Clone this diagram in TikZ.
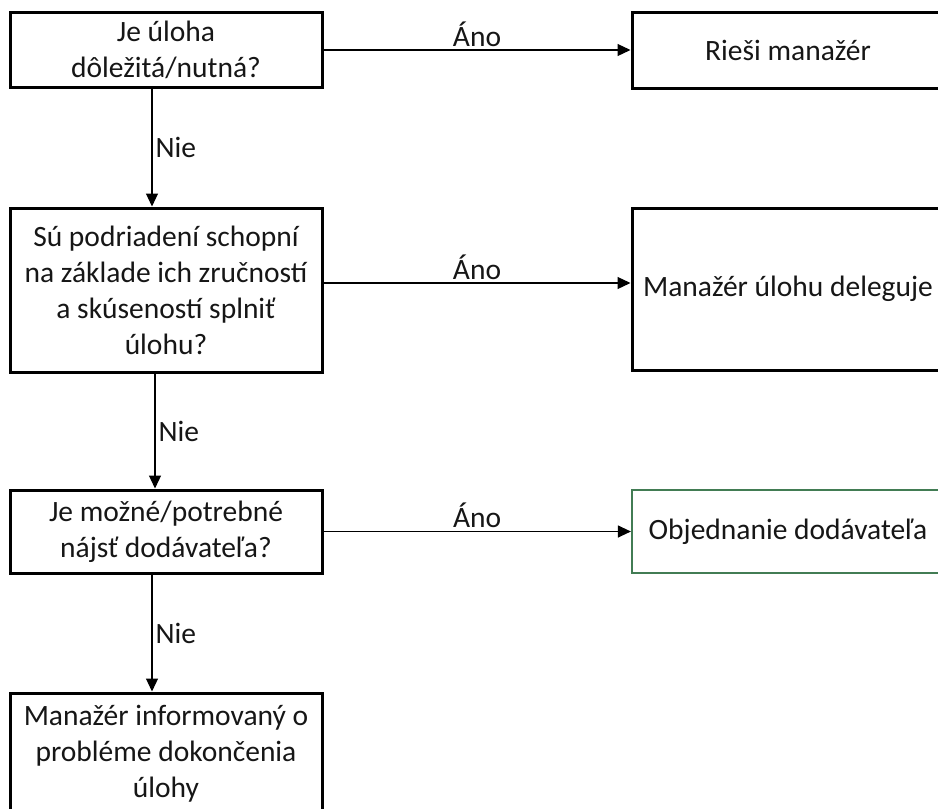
\documentclass[tikz,border=0pt]{standalone}
\usepackage{fontspec}
\setmainfont{Carlito}
\usetikzlibrary{arrows.meta}
\definecolor{txt}{RGB}{22,22,22}
\definecolor{okgreen}{RGB}{66,124,84}
\begin{document}
\begin{tikzpicture}[x=1pt,y=-1pt,
  box/.style={draw=black,line width=3pt,minimum width=312pt,inner sep=1pt,
    align=center,text=txt,font=\fontsize{29.5}{36}\selectfont},
  flow/.style={line width=1.2pt,-{Triangle[length=13pt,width=12pt]}},
  lbl/.style={text=txt,font=\fontsize{29.5}{36}\selectfont,inner sep=3pt}]
\useasboundingbox (0,0) rectangle (938,809);
\clip (0,0) rectangle (938,809);

% decision column
\node[box,minimum height=75pt] (q1) at (166,50) {Je úloha\\dôležitá/nutná?};
\node[box,minimum height=164pt] (q2) at (166,290)
  {Sú podriadení schopní\\na základe ich zručností\\a skúseností splniť\\úlohu?};
\node[box,minimum height=83pt] (q3) at (166,531.5)
  {Je možné/potrebné\\nájsť dodávateľa?};
\node[box,minimum height=122pt] (q4) at (166,754)
  {Manažér informovaný o\\probléme dokončenia\\úlohy};

% outcome column
\node[box,minimum height=76pt] (r1) at (788,50) {Rieši manažér};
\node[box,minimum height=162pt] (r2) at (788,289) {Manažér úlohu deleguje};
\node[box,draw=okgreen,line width=2.2pt,minimum height=83pt] (r3) at (788,531.5) {Objednanie dodávateľa};

% "yes" branches
\draw[flow] (q1.east) -- node[lbl,above] {Áno} (r1.west);
\draw[flow] ([yshift=7pt]q2.east) -- node[lbl,above] {Áno} ([yshift=7pt]q2.east -| r2.west);
\draw[flow] (q3.east) -- node[lbl,above] {Áno} (r3.west);

% "no" branches
\draw[flow] ([xshift=-14pt]q1.south) -- node[lbl,right] {Nie} ([xshift=-14pt]q1.south |- q2.north);
\draw[flow] ([xshift=-11pt]q2.south) -- node[lbl,right] {Nie} ([xshift=-11pt]q2.south |- q3.north);
\draw[flow] ([xshift=-14pt]q3.south) -- node[lbl,right] {Nie} ([xshift=-14pt]q3.south |- q4.north);
\end{tikzpicture}
\end{document}
